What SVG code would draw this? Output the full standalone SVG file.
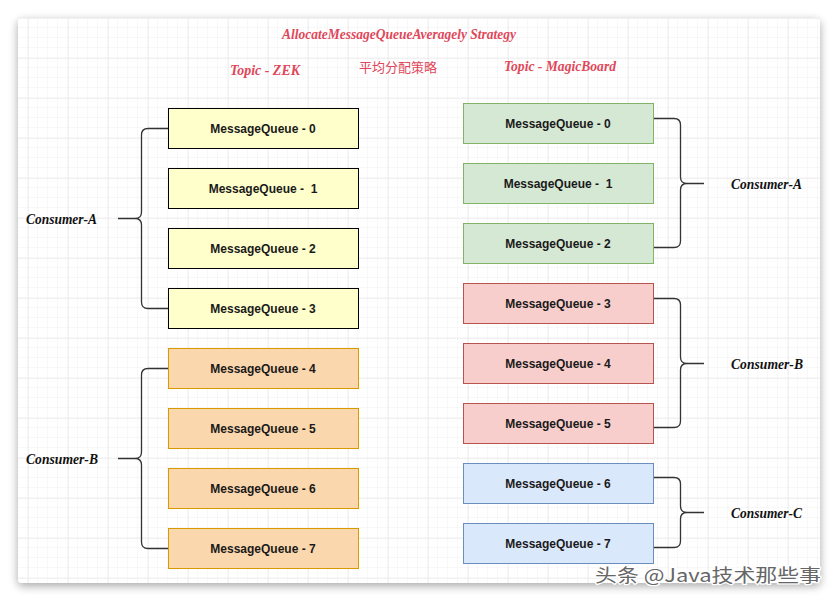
<svg xmlns="http://www.w3.org/2000/svg" width="838" height="602" viewBox="0 0 838 602">
<defs>
<pattern id="minor" x="18" y="18" width="10" height="10" patternUnits="userSpaceOnUse">
<path d="M10,0 V10 M0,10 H10" fill="none" stroke="#f1f1f1" stroke-width="1"/>
</pattern>
<pattern id="major" x="28" y="18" width="40" height="40" patternUnits="userSpaceOnUse">
<path d="M0,0 V40 M0,0 H40" fill="none" stroke="#e3e3e3" stroke-width="1"/>
</pattern>
<filter id="shadow" x="-5%" y="-5%" width="110%" height="110%">
<feGaussianBlur in="SourceAlpha" stdDeviation="5"/>
<feOffset dx="0" dy="3"/>
<feComponentTransfer><feFuncA type="linear" slope="0.35"/></feComponentTransfer>
<feMerge><feMergeNode/><feMergeNode in="SourceGraphic"/></feMerge>
</filter>
</defs>
<style>
.box text{font-family:"Liberation Sans",Arial,sans-serif;font-weight:bold;font-size:12px;fill:#1a1a1a;text-anchor:middle;dominant-baseline:central}
.y rect{fill:#FFFFCC;stroke:#000;stroke-width:1}
.o rect{fill:#FAD7AC;stroke:#D79B00;stroke-width:1}
.g rect{fill:#D5E8D4;stroke:#82B366;stroke-width:1}
.r rect{fill:#F8CECC;stroke:#B85450;stroke-width:1}
.b rect{fill:#DAE8FC;stroke:#6C8EBF;stroke-width:1}
.con{font-family:"Liberation Serif",serif;font-style:italic;font-weight:bold;font-size:14px;fill:#111;dominant-baseline:central}
.red{font-family:"Liberation Serif",serif;font-style:italic;font-weight:bold;font-size:14px;fill:#E0475A;text-anchor:middle;dominant-baseline:central}
.brace{fill:none;stroke:#333;stroke-width:1.3}
</style>
<rect width="838" height="602" fill="#ffffff"/>
<rect x="18" y="18" width="802" height="565" rx="4" fill="#fff" filter="url(#shadow)"/>
<rect x="18" y="18" width="802" height="565" fill="url(#minor)"/>
<rect x="18" y="18" width="802" height="565" fill="url(#major)"/>

<g id="titles">
<text class="red" x="399" y="34" textLength="234" lengthAdjust="spacingAndGlyphs">AllocateMessageQueueAveragely Strategy</text>
<text class="red" x="265" y="70" textLength="70" lengthAdjust="spacingAndGlyphs">Topic - ZEK</text>
<text class="red" x="398" y="66" style="font-family:'Noto Sans CJK SC',sans-serif;font-style:normal;font-weight:normal;font-size:13px">平均分配策略</text>
<text class="red" x="560" y="66" textLength="112" lengthAdjust="spacingAndGlyphs">Topic - MagicBoard</text>
</g>

<g id="left-q0" class="box y"><rect x="168.5" y="108.5" width="190" height="40"/><text x="263" y="128.5">MessageQueue - 0</text></g>
<g id="left-q1" class="box y"><rect x="168.5" y="168.5" width="190" height="40"/><text x="263" y="188.5" xml:space="preserve">MessageQueue -  1</text></g>
<g id="left-q2" class="box y"><rect x="168.5" y="228.5" width="190" height="40"/><text x="263" y="248.5">MessageQueue - 2</text></g>
<g id="left-q3" class="box y"><rect x="168.5" y="288.5" width="190" height="40"/><text x="263" y="308.5">MessageQueue - 3</text></g>
<g id="left-q4" class="box o"><rect x="168.5" y="348.5" width="190" height="40"/><text x="263" y="368.5">MessageQueue - 4</text></g>
<g id="left-q5" class="box o"><rect x="168.5" y="408.5" width="190" height="40"/><text x="263" y="428.5">MessageQueue - 5</text></g>
<g id="left-q6" class="box o"><rect x="168.5" y="468.5" width="190" height="40"/><text x="263" y="488.5">MessageQueue - 6</text></g>
<g id="left-q7" class="box o"><rect x="168.5" y="528.5" width="190" height="40"/><text x="263" y="548.5">MessageQueue - 7</text></g>

<g id="right-q0" class="box g"><rect x="463.5" y="103.5" width="190" height="40"/><text x="558" y="123.5">MessageQueue - 0</text></g>
<g id="right-q1" class="box g"><rect x="463.5" y="163.5" width="190" height="40"/><text x="558" y="183.5" xml:space="preserve">MessageQueue -  1</text></g>
<g id="right-q2" class="box g"><rect x="463.5" y="223.5" width="190" height="40"/><text x="558" y="243.5">MessageQueue - 2</text></g>
<g id="right-q3" class="box r"><rect x="463.5" y="283.5" width="190" height="40"/><text x="558" y="303.5">MessageQueue - 3</text></g>
<g id="right-q4" class="box r"><rect x="463.5" y="343.5" width="190" height="40"/><text x="558" y="363.5">MessageQueue - 4</text></g>
<g id="right-q5" class="box r"><rect x="463.5" y="403.5" width="190" height="40"/><text x="558" y="423.5">MessageQueue - 5</text></g>
<g id="right-q6" class="box b"><rect x="463.5" y="463.5" width="190" height="40"/><text x="558" y="483.5">MessageQueue - 6</text></g>
<g id="right-q7" class="box b"><rect x="463.5" y="523.5" width="190" height="40"/><text x="558" y="543.5">MessageQueue - 7</text></g>

<g id="left-consumer-a"><text class="con" x="26" y="219" textLength="71" lengthAdjust="spacingAndGlyphs">Consumer-A</text></g>
<g id="left-consumer-b"><text class="con" x="26" y="459" textLength="72" lengthAdjust="spacingAndGlyphs">Consumer-B</text></g>
<g id="right-consumer-a"><text class="con" x="731" y="184" textLength="71" lengthAdjust="spacingAndGlyphs">Consumer-A</text></g>
<g id="right-consumer-b"><text class="con" x="731" y="364" textLength="72" lengthAdjust="spacingAndGlyphs">Consumer-B</text></g>
<g id="right-consumer-c"><text class="con" x="731" y="513" textLength="71" lengthAdjust="spacingAndGlyphs">Consumer-C</text></g>

<g id="connectors">
<path class="brace" d="M168,128.5 H148 Q141.5,128.5 141.5,135 V212 Q141.5,218.5 135,218.5 H118 M135,218.5 Q141.5,218.5 141.5,225 V302 Q141.5,308.5 148,308.5 H168"/>
<path class="brace" d="M168,368.5 H148 Q141.5,368.5 141.5,375 V452 Q141.5,458.5 135,458.5 H118 M135,458.5 Q141.5,458.5 141.5,465 V542 Q141.5,548.5 148,548.5 H168"/>
<path class="brace" d="M654,118.5 H674 Q680.5,118.5 680.5,125 V177 Q680.5,183.5 687,183.5 H704 M687,183.5 Q680.5,183.5 680.5,190 V241 Q680.5,247.5 674,247.5 H654"/>
<path class="brace" d="M654,298.5 H674 Q680.5,298.5 680.5,305 V357 Q680.5,363.5 687,363.5 H704 M687,363.5 Q680.5,363.5 680.5,370 V421 Q680.5,427.5 674,427.5 H654"/>
<path class="brace" d="M654,477.5 H674 Q680.5,477.5 680.5,484 V506 Q680.5,512.5 687,512.5 H704 M687,512.5 Q680.5,512.5 680.5,519 V541 Q680.5,547.5 674,547.5 H654"/>
</g>

<g id="watermark">
<text x="595" y="582" style="font-family:'Noto Sans CJK SC','Noto Sans',sans-serif;font-size:18px;fill:#666;stroke:#fff;stroke-width:2.5;paint-order:stroke" textLength="226" lengthAdjust="spacingAndGlyphs">头条 @Java技术那些事</text>
</g>
</svg>
